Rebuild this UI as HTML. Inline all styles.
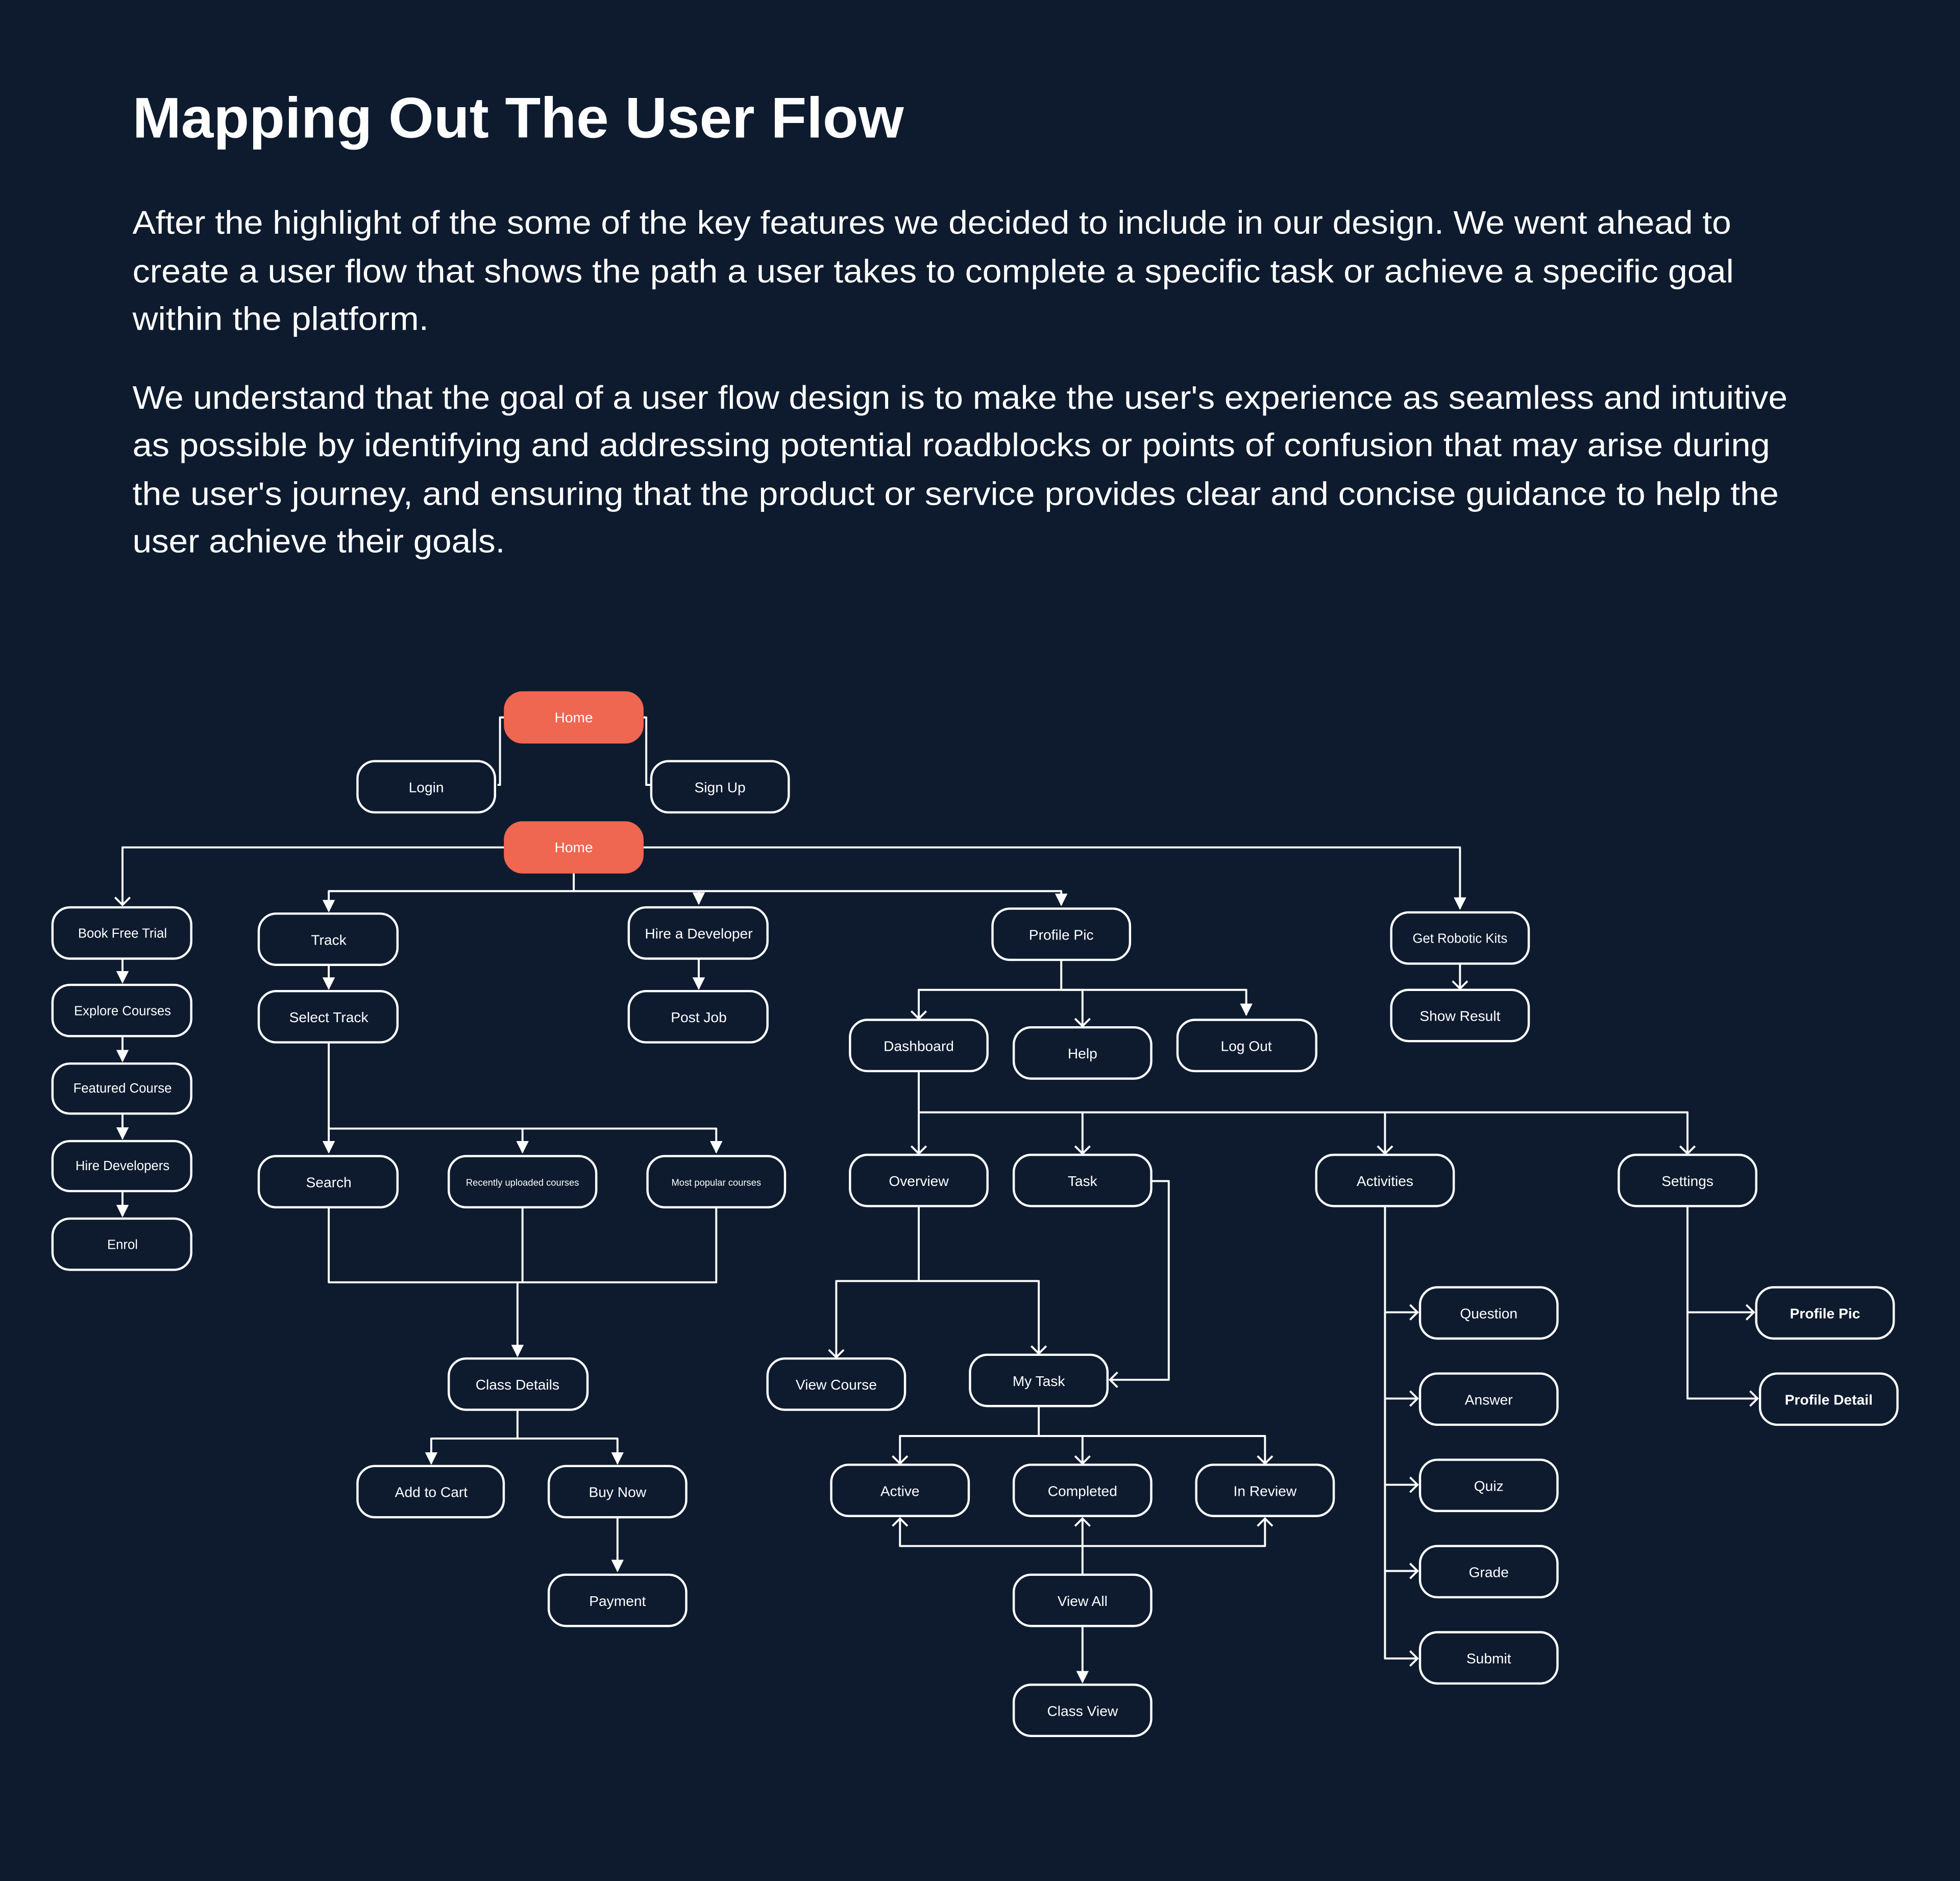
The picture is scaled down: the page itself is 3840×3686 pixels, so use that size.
<!DOCTYPE html>
<html><head><meta charset="utf-8"><style>
html,body{margin:0;padding:0;background:#0e1b2f;}
svg{display:block}
text{font-family:"Liberation Sans",sans-serif;fill:#fff}
.b rect{fill:#0e1b2f;stroke:#fff;stroke-width:1.8}
.b text{font-size:11.5px;text-anchor:middle;dominant-baseline:central}
.c{fill:none;stroke:#fff;stroke-width:1.6;stroke-linejoin:round}
.p{font-size:26px}
</style></head><body>
<svg width="3840" height="3686" viewBox="0 0 1568 1505" xmlns="http://www.w3.org/2000/svg">
<defs>
<marker id="ch" markerUnits="userSpaceOnUse" markerWidth="14" markerHeight="14" refX="7" refY="7" orient="auto"><path d="M1,1 L7,7 L1,13" fill="none" stroke="#fff" stroke-width="1.6"/></marker>
<marker id="tr" markerUnits="userSpaceOnUse" markerWidth="12" markerHeight="12" refX="9" refY="5" orient="auto"><path d="M0,0 L10,5 L0,10 Z" fill="#fff"/></marker>
</defs>
<rect width="1568" height="1505" fill="#0e1b2f"/>
<text x="106" y="110" font-size="46" font-weight="bold" textLength="617" lengthAdjust="spacingAndGlyphs">Mapping Out The User Flow</text>
<text class="p" x="106" y="187" textLength="1279" lengthAdjust="spacingAndGlyphs">After the highlight of the some of the key features we decided to include in our design. We went ahead to</text>
<text class="p" x="106" y="226" textLength="1281" lengthAdjust="spacingAndGlyphs">create a user flow that shows the path a user takes to complete a specific task or achieve a specific goal</text>
<text class="p" x="106" y="264" textLength="237" lengthAdjust="spacingAndGlyphs">within the platform.</text>
<text class="p" x="106" y="327" textLength="1324" lengthAdjust="spacingAndGlyphs">We understand that the goal of a user flow design is to make the user's experience as seamless and intuitive</text>
<text class="p" x="106" y="365" textLength="1310" lengthAdjust="spacingAndGlyphs">as possible by identifying and addressing potential roadblocks or points of confusion that may arise during</text>
<text class="p" x="106" y="404" textLength="1317" lengthAdjust="spacingAndGlyphs">the user's journey, and ensuring that the product or service provides clear and concise guidance to help the</text>
<text class="p" x="106" y="442" textLength="298" lengthAdjust="spacingAndGlyphs">user achieve their goals.</text>

<!-- connectors -->
<g class="c">
<path d="M404,574 H400 V628 H398"/>
<path d="M514,574 H517 V628 H521"/>
<path d="M404,678 H98 V724" marker-end="url(#ch)"/>
<path d="M514,678 H1168 V727" marker-end="url(#tr)"/>
<path d="M459,698 V713 H263 V729" marker-end="url(#tr)"/>
<path d="M459,713 H849 V724" marker-end="url(#tr)"/>
<path d="M559,713 V723" marker-end="url(#tr)"/>
<path d="M98,767 V786" marker-end="url(#tr)"/>
<path d="M98,829 V849" marker-end="url(#tr)"/>
<path d="M98,891 V911" marker-end="url(#tr)"/>
<path d="M98,953 V973" marker-end="url(#tr)"/>
<path d="M263,772 V791" marker-end="url(#tr)"/>
<path d="M559,767 V791" marker-end="url(#tr)"/>
<path d="M263,834 V922" marker-end="url(#tr)"/>
<path d="M263,903 H573 V922" marker-end="url(#tr)"/>
<path d="M418,903 V922" marker-end="url(#tr)"/>
<path d="M263,966 V1026 H573 V966"/>
<path d="M418,966 V1026"/>
<path d="M414,1026 V1085" marker-end="url(#tr)"/>
<path d="M414,1128 V1151 H345 V1171" marker-end="url(#tr)"/>
<path d="M414,1151 H494 V1171" marker-end="url(#tr)"/>
<path d="M494,1214 V1257" marker-end="url(#tr)"/>
<path d="M1168,771 V791" marker-end="url(#ch)"/>
<path d="M849,768 V792 H735 V815" marker-end="url(#ch)"/>
<path d="M849,792 H866 V821" marker-end="url(#ch)"/>
<path d="M849,792 H997 V812" marker-end="url(#tr)"/>
<path d="M735,857 V923" marker-end="url(#ch)"/>
<path d="M735,890 H1350 V923" marker-end="url(#ch)"/>
<path d="M866,890 V923" marker-end="url(#ch)"/>
<path d="M1108,890 V923" marker-end="url(#ch)"/>
<path d="M921,945 H935 V1104 H888" marker-end="url(#ch)"/>
<path d="M735,965 V1025 H669 V1086" marker-end="url(#ch)"/>
<path d="M735,1025 H831 V1083" marker-end="url(#ch)"/>
<path d="M831,1125 V1149 H720 V1171" marker-end="url(#ch)"/>
<path d="M831,1149 H1012 V1171" marker-end="url(#ch)"/>
<path d="M866,1149 V1171" marker-end="url(#ch)"/>
<path d="M866,1260 V1215" marker-end="url(#ch)"/>
<path d="M866,1237 H720 V1215" marker-end="url(#ch)"/>
<path d="M866,1237 H1012 V1215" marker-end="url(#ch)"/>
<path d="M866,1301 V1346" marker-end="url(#tr)"/>
<path d="M1108,965 V1327 H1134" marker-end="url(#ch)"/>
<path d="M1108,1050 H1134" marker-end="url(#ch)"/>
<path d="M1108,1119 H1134" marker-end="url(#ch)"/>
<path d="M1108,1188 H1134" marker-end="url(#ch)"/>
<path d="M1108,1257 H1134" marker-end="url(#ch)"/>
<path d="M1350,965 V1119 H1406" marker-end="url(#ch)"/>
<path d="M1350,1050 H1403" marker-end="url(#ch)"/>
</g>

<!-- nodes -->
<g class="b">
<rect x="404" y="554" width="110" height="40" rx="14" style="fill:#ef6651;stroke:#ef6651"/><text x="459" y="574">Home</text>
<rect x="286" y="609" width="110" height="41" rx="14"/><text x="341" y="630">Login</text>
<rect x="521" y="609" width="110" height="41" rx="14"/><text x="576" y="630">Sign Up</text>
<rect x="404" y="658" width="110" height="40" rx="14" style="fill:#ef6651;stroke:#ef6651"/><text x="459" y="678">Home</text>

<rect x="42" y="726" width="111" height="41" rx="14"/><text x="98" y="747" style="font-size:10.5px">Book Free Trial</text>
<rect x="42" y="788" width="111" height="41" rx="14"/><text x="98" y="809" style="font-size:10.5px">Explore Courses</text>
<rect x="42" y="851" width="111" height="40" rx="14"/><text x="98" y="871" style="font-size:10.5px">Featured Course</text>
<rect x="42" y="913" width="111" height="40" rx="14"/><text x="98" y="933" style="font-size:10.5px">Hire Developers</text>
<rect x="42" y="975" width="111" height="41" rx="14"/><text x="98" y="996" style="font-size:10.5px">Enrol</text>

<rect x="207" y="731" width="111" height="41" rx="14"/><text x="263" y="752">Track</text>
<rect x="207" y="793" width="111" height="41" rx="14"/><text x="263" y="814">Select Track</text>
<rect x="207" y="925" width="111" height="41" rx="14"/><text x="263" y="946">Search</text>
<rect x="359" y="925" width="118" height="41" rx="14"/><text x="418" y="946" style="font-size:7.5px">Recently uploaded courses</text>
<rect x="518" y="925" width="110" height="41" rx="14"/><text x="573" y="946" style="font-size:7.5px">Most popular courses</text>
<rect x="359" y="1087" width="111" height="41" rx="14"/><text x="414" y="1108">Class Details</text>
<rect x="286" y="1173" width="117" height="41" rx="14"/><text x="345" y="1194">Add to Cart</text>
<rect x="439" y="1173" width="110" height="41" rx="14"/><text x="494" y="1194">Buy Now</text>
<rect x="439" y="1260" width="110" height="41" rx="14"/><text x="494" y="1281">Payment</text>

<rect x="503" y="726" width="111" height="41" rx="14"/><text x="559" y="747">Hire a Developer</text>
<rect x="503" y="793" width="111" height="41" rx="14"/><text x="559" y="814">Post Job</text>

<rect x="794" y="727" width="110" height="41" rx="14"/><text x="849" y="748">Profile Pic</text>
<rect x="680" y="816" width="110" height="41" rx="14"/><text x="735" y="837">Dashboard</text>
<rect x="811" y="822" width="110" height="41" rx="14"/><text x="866" y="843">Help</text>
<rect x="942" y="816" width="111" height="41" rx="14"/><text x="997" y="837">Log Out</text>
<rect x="680" y="924" width="110" height="41" rx="14"/><text x="735" y="945">Overview</text>
<rect x="811" y="924" width="110" height="41" rx="14"/><text x="866" y="945">Task</text>
<rect x="1053" y="924" width="110" height="41" rx="14"/><text x="1108" y="945">Activities</text>
<rect x="1295" y="924" width="110" height="41" rx="14"/><text x="1350" y="945">Settings</text>
<rect x="614" y="1087" width="110" height="41" rx="14"/><text x="669" y="1108">View Course</text>
<rect x="776" y="1084" width="110" height="41" rx="14"/><text x="831" y="1105">My Task</text>
<rect x="665" y="1172" width="110" height="41" rx="14"/><text x="720" y="1193">Active</text>
<rect x="811" y="1172" width="110" height="41" rx="14"/><text x="866" y="1193">Completed</text>
<rect x="957" y="1172" width="110" height="41" rx="14"/><text x="1012" y="1193">In Review</text>
<rect x="811" y="1260" width="110" height="41" rx="14"/><text x="866" y="1281">View All</text>
<rect x="811" y="1348" width="110" height="41" rx="14"/><text x="866" y="1369">Class View</text>

<rect x="1136" y="1030" width="110" height="41" rx="14"/><text x="1191" y="1051">Question</text>
<rect x="1136" y="1099" width="110" height="41" rx="14"/><text x="1191" y="1120">Answer</text>
<rect x="1136" y="1168" width="110" height="41" rx="14"/><text x="1191" y="1189">Quiz</text>
<rect x="1136" y="1237" width="110" height="41" rx="14"/><text x="1191" y="1258">Grade</text>
<rect x="1136" y="1306" width="110" height="41" rx="14"/><text x="1191" y="1327">Submit</text>
<rect x="1405" y="1030" width="110" height="41" rx="14"/><text x="1460" y="1051" font-weight="bold">Profile Pic</text>
<rect x="1408" y="1099" width="110" height="41" rx="14"/><text x="1463" y="1120" font-weight="bold">Profile Detail</text>

<rect x="1113" y="730" width="110" height="41" rx="14"/><text x="1168" y="751" style="font-size:10.5px">Get Robotic Kits</text>
<rect x="1113" y="792" width="110" height="41" rx="14"/><text x="1168" y="813">Show Result</text>
</g>
</svg>
</body></html>
